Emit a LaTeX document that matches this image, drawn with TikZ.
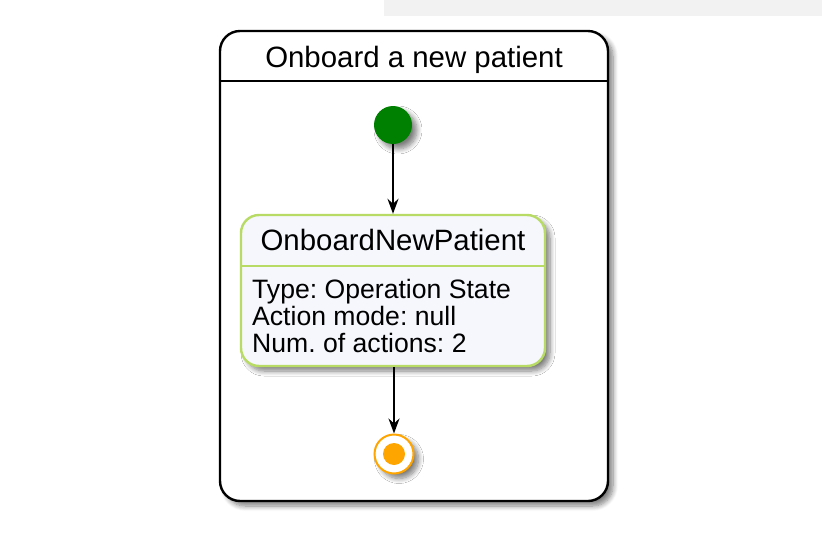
\documentclass[tikz,border=0pt]{standalone}
\usepackage{fontspec}
\setmainfont{Liberation Sans}
\frenchspacing
\usetikzlibrary{shadows.blur,arrows.meta}
\definecolor{stborder}{RGB}{183,219,100}
\definecolor{stfill}{RGB}{245,247,253}
\definecolor{startgreen}{RGB}{0,128,0}
\definecolor{endorange}{RGB}{255,165,0}
\definecolor{bargrey}{RGB}{242,242,242}
\tikzset{
  softshadow/.style={blur shadow={shadow xshift=5pt, shadow yshift=-5pt, shadow blur steps=8, shadow blur radius=5pt, shadow opacity=50}},
  titletext/.style={font=\fontsize{29.4}{29.4}\selectfont, inner sep=0pt, anchor=base},
  bodytext/.style={font=\fontsize{26.6}{27}\selectfont, inner sep=0pt, anchor=base west},
  flow/.style={-{Stealth[length=15pt,width=11pt]}, line width=1.8pt, black},
}
\begin{document}
\begin{tikzpicture}[x=1pt,y=-1pt]
\useasboundingbox (0,0) rectangle (822,546);
\fill[bargrey] (384,0) rectangle (822,15.5);
% outer composite state
\node[draw=black, line width=2.4pt, fill=white, rounded corners=20pt, minimum width=388pt, minimum height=470pt, inner sep=0pt, softshadow] (outer) at (414,266) {};
\draw[line width=2.4pt] (outer.west |- 0,81) -- (outer.east |- 0,81);
\node[titletext] (otitle) at (414,67) {Onboard a new patient};
% start
\node[circle, fill=startgreen, minimum size=38pt, inner sep=0pt, softshadow] (start) at (393,125) {};
% state
\node[draw=stborder, fill=stfill, line width=2.4pt, rounded corners=18pt, minimum width=304pt, minimum height=151pt, inner sep=0pt, softshadow] (st) at (393,290.5) {};
\draw[stborder, line width=2.4pt] (st.west |- 0,266) -- (st.east |- 0,266);
\node[titletext] (sttitle) at (393,250) {OnboardNewPatient};
\node[bodytext] (l1) at (252,298) {Type: Operation State};
\node[bodytext] (l2) at (252,325) {Action mode: null};
\node[bodytext] (l3) at (252,352) {Num. of actions: 2};
% end
\node[circle, draw=endorange, line width=2pt, fill=white, minimum size=39pt, inner sep=0pt, softshadow] (end) at (394,454) {};
\node[circle, fill=endorange, minimum size=22pt, inner sep=0pt] (endin) at (394,454) {};
% connectors
\draw[flow] (start.south) -- (st.north);
\draw[flow] (st.south -| end.north) -- (end.north);
\end{tikzpicture}
\end{document}
